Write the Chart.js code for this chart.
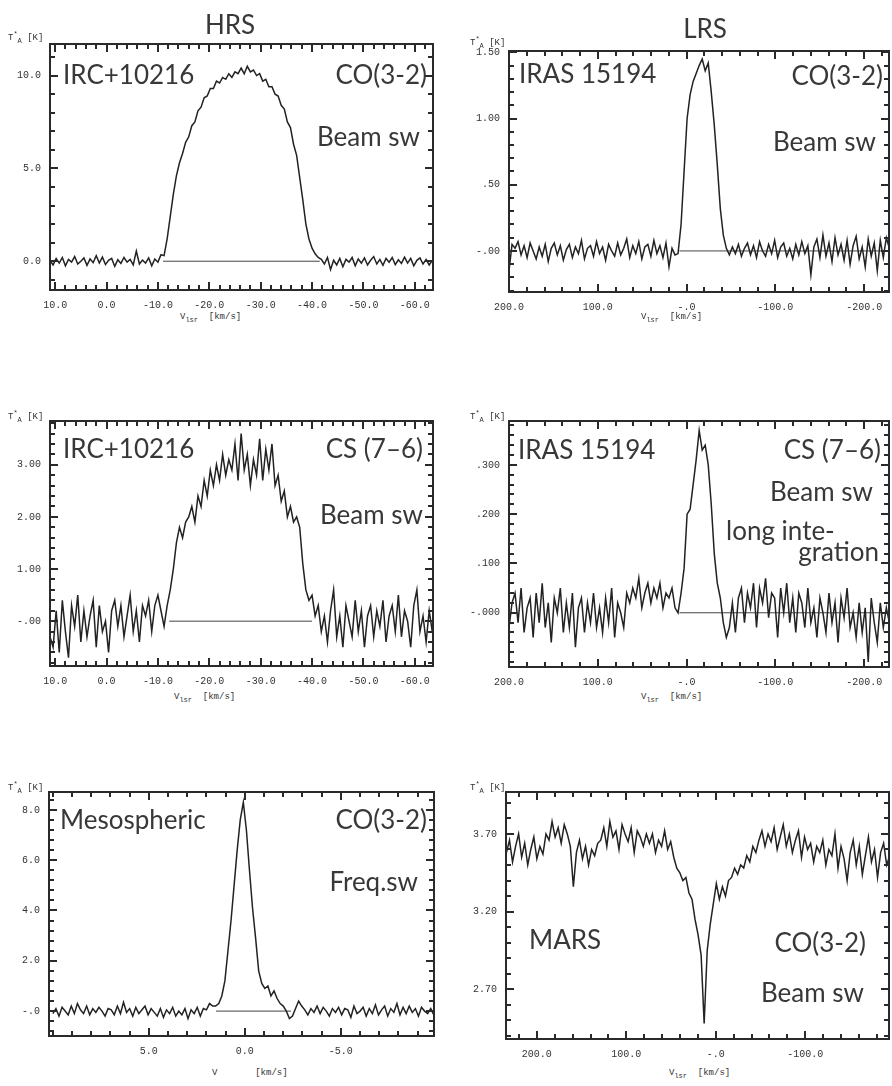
<!DOCTYPE html>
<html>
<head>
<meta charset="utf-8">
<script src="https://cdn.jsdelivr.net/npm/chart.js@4.4.1/dist/chart.umd.min.js"></script>
<style>
  body { margin:0; background:#fff; width:892px; height:1086px; overflow:hidden; position:relative; color:#363636; }
  canvas { position:absolute; }
  .t { position:absolute; font-family:Lato,"DejaVu Sans",sans-serif; font-size:26px; line-height:1; white-space:nowrap; color:#383838; }
  .ya, .xa { position:absolute; font-family:"Liberation Mono",monospace; font-size:9px; line-height:1; white-space:nowrap; color:#333; }
  .ya sub, .xa sub { font-size:7px; }
  .ya sup { font-size:7px; }
</style>
</head>
<body>
<canvas id="p1"></canvas><canvas id="p2"></canvas>
<canvas id="p3"></canvas><canvas id="p4"></canvas>
<canvas id="p5"></canvas><canvas id="p6"></canvas>

<!-- panel titles and notes -->
<div class="t" style="left:230px;top:11px;transform:translateX(-50%)">HRS</div>
<div class="t" style="left:705px;top:15px;transform:translateX(-50%)">LRS</div>

<div class="t" style="left:63px;top:61px">IRC+10216</div>
<div class="t" style="right:465px;top:61px">CO(3-2)</div>
<div class="t" style="right:472px;top:123px">Beam sw</div>

<div class="t" style="left:519px;top:60px">IRAS 15194</div>
<div class="t" style="right:9px;top:62px">CO(3-2)</div>
<div class="t" style="right:16px;top:128px">Beam sw</div>

<div class="t" style="left:63px;top:435px">IRC+10216</div>
<div class="t" style="right:469px;top:435px">CS (7–6)</div>
<div class="t" style="right:469px;top:501px">Beam sw</div>

<div class="t" style="left:518px;top:436px">IRAS 15194</div>
<div class="t" style="right:11px;top:436px">CS (7–6)</div>
<div class="t" style="right:19px;top:478px">Beam sw</div>
<div class="t" style="left:726px;top:517px">long inte-</div>
<div class="t" style="right:13px;top:538px">gration</div>

<div class="t" style="left:60px;top:806px">Mesospheric</div>
<div class="t" style="right:465px;top:806px">CO(3-2)</div>
<div class="t" style="right:474px;top:868px">Freq.sw</div>

<div class="t" style="left:529px;top:926px">MARS</div>
<div class="t" style="right:26px;top:929px">CO(3-2)</div>
<div class="t" style="right:28px;top:979px">Beam sw</div>

<!-- axis titles -->
<div class="ya" style="left:8px;top:31px">T<sup>*</sup><sub>A</sub> [K]</div>
<div class="ya" style="left:470px;top:36px">T<sup>*</sup><sub>A</sub> [K]</div>
<div class="ya" style="left:8px;top:410px">T<sup>*</sup><sub>A</sub> [K]</div>
<div class="ya" style="left:470px;top:410px">T<sup>*</sup><sub>A</sub> [K]</div>
<div class="ya" style="left:8px;top:781px">T<sup>*</sup><sub>A</sub> [K]</div>
<div class="ya" style="left:470px;top:781px">T<sup>*</sup><sub>A</sub> [K]</div>

<div class="xa" style="left:180px;top:313px">V<sub>lsr</sub>&nbsp;&nbsp;[km/s]</div>
<div class="xa" style="left:641px;top:313px">V<sub>lsr</sub>&nbsp;&nbsp;[km/s]</div>
<div class="xa" style="left:174px;top:693px">V<sub>lsr</sub>&nbsp;&nbsp;[km/s]</div>
<div class="xa" style="left:641px;top:693px">V<sub>lsr</sub>&nbsp;&nbsp;[km/s]</div>
<div class="xa" style="left:212px;top:1069px">V&nbsp;&nbsp;&nbsp;&nbsp;&nbsp;&nbsp;&nbsp;[km/s]</div>
<div class="xa" style="left:669px;top:1069px">V<sub>lsr</sub>&nbsp;&nbsp;[km/s]</div>

<script>
// --- HRS, IRC+10216 CO(3-2) ---
const v1Start = 11, v1Step = -0.6;
const y1 = [
  0.05,-0.2,0.15,-0.1,0.2,-0.25,0.1,-0.05,0.25,-0.15,0.0,0.18,-0.22,0.12,-0.08,0.3,-0.1,0.22,-0.18,0.05,
  0.15,-0.28,0.08,-0.12,0.2,-0.05,0.1,-0.2,0.55,-0.15,0.06,-0.1,0.18,-0.25,0.12,-0.05,0.35,
  0.3,1.2,2.4,3.6,4.6,5.3,5.8,6.4,6.7,7.3,7.5,8.1,8.3,8.8,8.9,9.3,9.3,9.7,9.6,9.9,9.8,10.1,9.9,10.2,
  10.1,10.4,10.1,10.5,10.2,10.3,10.0,10.1,9.7,9.8,9.4,9.4,9.0,8.9,8.4,8.2,7.5,7.2,6.3,5.7,4.5,3.3,2.0,1.2,0.7,0.4,0.2,
  0.1,-0.15,0.2,-0.45,0.05,-0.2,0.15,-0.3,0.1,-0.05,0.2,-0.25,0.12,-0.1,0.18,-0.2,0.05,0.25,-0.15,0.1,
  -0.22,0.15,-0.05,0.2,-0.18,0.08,-0.12,0.22,-0.1,0.15,-0.25,0.05,0.18,-0.15,0.1,-0.2,0.05
];
const base1 = [-11, -41.5];
const xTicks1 = [10, 0, -10, -20, -30, -40, -50, -60];
const xLabels1 = ['10.0', '0.0', '-10.0', '-20.0', '-30.0', '-40.0', '-50.0', '-60.0'];
const yTicks1 = [0, 5, 10];
const yLabels1 = ['0.0', '5.0', '10.0'];

// --- LRS, IRAS 15194 CO(3-2) ---
const v2Start = 200, v2Step = -3.4;
const y2 = [
  -0.15,0.05,0.02,0.07,-0.03,0.04,-0.05,0.06,0.0,-0.06,0.03,-0.04,0.05,-0.08,0.02,0.06,-0.03,0.04,-0.07,0.01,
  0.05,-0.05,0.03,-0.02,0.08,-0.06,0.02,0.04,-0.04,0.07,-0.02,0.03,-0.07,0.05,0.0,-0.04,0.06,-0.03,0.02,0.09,
  -0.05,0.04,-0.02,0.07,-0.06,0.03,0.05,-0.04,0.08,-0.02,0.04,-0.05,0.06,-0.12,0.02,-0.03,
  -0.02,0.2,0.6,1.0,1.18,1.28,1.34,1.40,1.45,1.36,1.42,1.20,0.95,0.65,0.32,0.12,0.02,-0.03,
  0.03,-0.02,0.05,-0.04,0.02,0.06,-0.03,0.04,-0.05,0.07,0.0,-0.04,0.05,-0.02,0.08,-0.05,0.03,0.06,-0.04,0.02,
  -0.06,0.05,-0.03,0.07,-0.02,0.04,-0.18,0.03,0.09,-0.05,0.12,-0.04,0.06,-0.08,0.1,-0.03,0.05,-0.07,0.08,-0.1,
  0.04,0.11,-0.06,0.03,-0.12,0.09,-0.04,0.06,-0.15,0.08,-0.05,0.1,0.02
];
const base2 = [8, -228];
const xTicksL = [200, 100, 0, -100, -200];
const xLabelsL = ['200.0', '100.0', '-.0', '-100.0', '-200.0'];
const yTicks2 = [0, 0.5, 1.0, 1.5];
const yLabels2 = ['-.00', '.50', '1.00', '1.50'];

// --- HRS, IRC+10216 CS(7-6) ---
const v3Start = 11, v3Step = -0.6;
const y3 = [
  -0.3,-0.5,0.2,-0.6,0.4,-0.2,-0.7,0.3,-0.1,0.5,-0.4,0.2,-0.3,0.1,0.4,-0.5,0.3,-0.2,0.0,-0.6,
  0.2,0.4,-0.1,0.3,-0.3,0.1,0.5,-0.2,0.2,-0.4,0.3,0.1,0.4,-0.2,0.3,0.5,0.2,-0.1,0.3,
  0.6,1.0,1.5,1.8,1.6,1.9,2.0,2.2,1.9,2.4,2.2,2.7,2.4,2.9,2.6,3.0,2.7,3.2,2.8,3.1,
  2.9,3.4,2.7,3.6,2.9,3.2,2.6,3.1,2.8,3.5,2.7,3.3,2.9,3.4,2.6,2.8,2.3,2.5,2.0,2.2,
  1.9,2.0,1.8,1.1,0.6,0.4,0.5,0.1,
  0.3,-0.2,0.1,-0.4,0.2,0.6,-0.3,0.1,-0.5,0.3,0.0,-0.3,0.4,-0.2,0.2,-0.5,0.1,0.3,-0.3,0.2,
  -0.1,0.4,-0.4,0.1,0.3,-0.2,0.5,-0.3,0.2,0.0,-0.5,0.3,0.6,-0.2,0.1,-0.4,0.2,-0.2
];
const base3 = [-12.2, -40];
const yTicks3 = [0, 1, 2, 3];
const yLabels3 = ['-.00', '1.00', '2.00', '3.00'];

// --- LRS, IRAS 15194 CS(7-6) ---
const v4Start = 200, v4Step = -3.4;
const y4 = [
  -0.03,0.02,0.04,-0.02,0.05,-0.04,0.01,0.03,-0.05,0.04,-0.02,0.06,-0.03,0.02,-0.06,0.03,0.0,0.05,-0.04,0.02,
  -0.03,0.04,-0.07,0.01,0.03,-0.04,0.02,-0.02,0.04,-0.03,0.01,-0.04,0.03,-0.02,0.05,-0.05,0.02,0.0,-0.03,0.04,
  0.02,0.05,0.03,0.07,0.01,0.04,0.06,0.02,0.05,0.03,0.06,0.01,0.04,0.03,0.05,0.01,
  0.0,0.04,0.09,0.2,0.21,0.26,0.31,0.37,0.33,0.34,0.30,0.22,0.12,0.06,0.03,-0.02,-0.05,-0.03,
  0.02,-0.04,0.03,0.05,-0.02,0.04,0.01,0.06,-0.03,0.05,0.02,0.07,-0.01,0.04,0.03,-0.05,0.05,0.0,0.06,-0.02,
  0.03,-0.04,0.04,0.02,-0.03,0.05,-0.02,0.01,-0.05,0.03,0.0,-0.04,0.04,-0.02,0.02,-0.06,0.03,-0.01,0.05,-0.03,
  0.0,-0.05,0.02,-0.04,0.01,-0.1,0.03,-0.02,-0.06,0.02,-0.03,0.01,-0.02
];
const base4 = [8, -228];
const yTicks4 = [0, 0.1, 0.2, 0.3];
const yLabels4 = ['-.000', '.100', '.200', '.300'];

// --- Mesospheric CO(3-2), freq. switched ---
const v5Start = 10, v5Step = -0.16;
const y5 = [
  -0.1,0.1,-0.2,0.15,0.0,-0.15,0.2,-0.1,0.3,0.05,-0.1,0.2,-0.15,0.1,-0.05,0.15,0.0,-0.2,0.1,0.05,
  -0.15,0.2,-0.1,0.35,-0.05,0.1,-0.2,0.15,-0.1,0.05,0.2,-0.15,0.1,-0.05,-0.2,0.1,-0.25,0.05,-0.1,0.15,
  -0.2,0.0,-0.15,0.1,-0.3,0.05,-0.1,0.15,-0.2,0.1,0.05,0.3,0.2,
  0.2,0.3,0.6,1.2,2.4,3.6,5.0,6.4,7.6,8.3,7.2,5.6,4.1,2.9,1.6,1.1,0.9,1.0,0.6,0.8,0.5,0.3,0.2,0.0,-0.3,-0.2,0.1,
  0.4,0.2,0.05,-0.15,0.1,-0.05,0.2,-0.1,0.15,0.0,-0.2,0.1,-0.05,0.15,-0.15,0.1,0.05,-0.25,0.2,-0.1,
  0.0,0.15,-0.2,0.1,-0.1,0.25,-0.15,0.05,0.2,-0.2,0.1,-0.05,0.3,-0.15,0.15,-0.1,0.2,-0.05,0.1,-0.2,
  0.15,0.0,-0.1,0.1,-0.15
];
const base5 = [1.5, -2.4];
const xTicks5 = [5, 0, -5];
const xLabels5 = ['5.0', '0.0', '-5.0'];
const yTicks5 = [0, 2, 4, 6, 8];
const yLabels5 = ['-.0', '2.0', '4.0', '6.0', '8.0'];

// --- MARS CO(3-2) absorption ---
const v6Start = 234, v6Step = -3.4;
const y6 = [
  3.58,3.66,3.52,3.62,3.70,3.55,3.64,3.50,3.60,3.68,3.54,3.62,3.57,
  3.70,3.66,3.78,3.68,3.74,3.64,3.76,3.70,3.62,3.36,
  3.58,3.66,3.54,3.62,3.50,3.60,3.56,3.64,
  3.66,3.74,3.62,3.78,3.68,3.72,3.60,3.76,3.70,3.65,3.74,3.58,3.72,3.68,3.62,3.70,
  3.64,3.70,3.58,3.66,3.62,3.72,3.60,3.65,3.55,
  3.48,3.45,3.40,3.42,3.32,3.28,3.15,3.05,2.92,2.48,2.95,3.12,3.25,3.38,3.28,3.36,3.30,3.40,3.42,3.48,
  3.44,3.50,3.48,3.56,3.52,3.62,3.58,
  3.66,3.72,3.62,3.70,3.65,3.74,3.60,3.68,3.76,3.62,3.70,3.58,3.66,3.72,3.55,3.68,3.60,3.64,3.52,3.62,
  3.58,3.66,3.50,3.60,3.56,3.70,3.48,3.62,3.54,3.40,3.58,3.66,3.50,3.62,3.44,3.56,3.68,3.52,3.60,3.42,
  3.58,3.64,3.50,3.56
];
const base6 = [];
const xTicks6 = [200, 100, 0, -100];
const xLabels6 = ['200.0', '100.0', '-.0', '-100.0'];
const yTicks6 = [2.7, 3.2, 3.7];
const yLabels6 = ['2.70', '3.20', '3.70'];

const ink = '#222';
const tickFont = { family: 'Liberation Mono', size: 10 };

// frame + inward tick marks on all four sides (one plugin per panel)
function frameTicks(xMinor, yMinor) {
  return {
    id: 'frameTicks',
    afterDraw(chart) {
      const ctx = chart.ctx, a = chart.chartArea;
      const x = chart.scales.x, y = chart.scales.y;
      const L = Math.round(a.left), T = Math.round(a.top);
      const R = Math.round(a.right), B = Math.round(a.bottom);
      ctx.save();
      ctx.fillStyle = '#2a2a2a';
      // frame as filled bars
      ctx.fillRect(L - 1, T - 1, R - L + 2, 2);
      ctx.fillRect(L - 1, B - 1, R - L + 2, 2);
      ctx.fillRect(L - 1, T - 1, 2, B - T + 2);
      ctx.fillRect(R - 1, T - 1, 2, B - T + 2);
      const xMaj = x.ticks.map(t => t.value), yMaj = y.ticks.map(t => t.value);
      const k0 = Math.ceil(x.min / xMinor - 1e-6), k1 = Math.floor(x.max / xMinor + 1e-6);
      for (let k = k0; k <= k1; k++) {
        const v = k * xMinor;
        const px = Math.round(x.getPixelForValue(v));
        const len = xMaj.some(t => Math.abs(t - v) < xMinor / 10) ? 8 : 5;
        ctx.fillRect(px - 1, B - len, 2, len);
        ctx.fillRect(px - 1, T, 2, len);
      }
      const j0 = Math.ceil(y.min / yMinor - 1e-6), j1 = Math.floor(y.max / yMinor + 1e-6);
      for (let k = j0; k <= j1; k++) {
        const v = k * yMinor;
        const py = Math.round(y.getPixelForValue(v));
        const len = yMaj.some(t => Math.abs(t - v) < yMinor / 10) ? 8 : 5;
        ctx.fillRect(L, py - 1, len, 2);
        ctx.fillRect(R - len, py - 1, len, 2);
      }
      ctx.restore();
    }
  };
}

function makePanel(id, area, p) {
  const cv = document.getElementById(id);
  const W = area[2] - area[0] + 54, H = area[3] - area[1] + 36;
  cv.width = W; cv.height = H;
  cv.style.left = (area[0] - 50) + 'px';
  cv.style.top = (area[1] - 14) + 'px';

  const datasets = [{
    data: p.y.map((y, i) => ({ x: p.start + i * p.step, y })),
    borderColor: ink, borderWidth: 1.5, pointRadius: 0, tension: 0
  }];
  if (p.base.length) {
    datasets.push({
      data: p.base.map(x => ({ x, y: 0 })),
      borderColor: '#444', borderWidth: 1, pointRadius: 0
    });
  }

  new Chart(cv, {
    type: 'line',
    data: { datasets },
    options: {
      responsive: false,
      animation: false,
      devicePixelRatio: 1,
      layout: { padding: { top: 14, right: 4, left: 0, bottom: 0 } },
      plugins: { legend: { display: false }, tooltip: { enabled: false } },
      scales: {
        x: {
          type: 'linear', reverse: true, min: p.xMin, max: p.xMax,
          afterFit: s => { s.height = 22; },
          afterBuildTicks: s => { s.ticks = p.xTicks.map(v => ({ value: v })); },
          ticks: {
            callback: v => p.xLabels[p.xTicks.indexOf(v)],
            font: tickFont, color: '#333', padding: 9, maxRotation: 0, autoSkip: false
          },
          grid: { display: false, drawTicks: false },
          border: { display: false }
        },
        y: {
          type: 'linear', min: p.yMin, max: p.yMax,
          afterFit: s => { s.width = 50; },
          afterBuildTicks: s => { s.ticks = p.yTicks.map(v => ({ value: v })); },
          ticks: {
            callback: v => p.yLabels[p.yTicks.indexOf(v)],
            font: tickFont, color: '#333', padding: 9, autoSkip: false
          },
          grid: { display: false, drawTicks: false },
          border: { display: false }
        }
      }
    },
    plugins: [frameTicks(p.xMinor, p.yMinor)]
  });
}

makePanel('p1', [50, 43, 435, 290], {
  y: y1, start: v1Start, step: v1Step, base: base1,
  xMin: -63.5, xMax: 11, yMin: -1.55, yMax: 11.7,
  xTicks: xTicks1, xLabels: xLabels1, yTicks: yTicks1, yLabels: yLabels1, xMinor: 2, yMinor: 1
});
makePanel('p2', [509, 50, 889, 292], {
  y: y2, start: v2Start, step: v2Step, base: base2,
  xMin: -228, xMax: 200, yMin: -0.31, yMax: 1.51,
  xTicks: xTicksL, xLabels: xLabelsL, yTicks: yTicks2, yLabels: yLabels2, xMinor: 20, yMinor: 0.1
});
makePanel('p3', [50, 420, 435, 666], {
  y: y3, start: v3Start, step: v3Step, base: base3,
  xMin: -63.5, xMax: 11, yMin: -0.86, yMax: 3.84,
  xTicks: xTicks1, xLabels: xLabels1, yTicks: yTicks3, yLabels: yLabels3, xMinor: 2, yMinor: 0.2
});
makePanel('p4', [509, 420, 889, 667], {
  y: y4, start: v4Start, step: v4Step, base: base4,
  xMin: -228, xMax: 200, yMin: -0.11, yMax: 0.389,
  xTicks: xTicksL, xLabels: xLabelsL, yTicks: yTicks4, yLabels: yLabels4, xMinor: 20, yMinor: 0.02
});
makePanel('p5', [49, 791, 434, 1036], {
  y: y5, start: v5Start, step: v5Step, base: base5,
  xMin: -9.85, xMax: 10.2, yMin: -0.99, yMax: 8.71,
  xTicks: xTicks5, xLabels: xLabels5, yTicks: yTicks5, yLabels: yLabels5, xMinor: 1, yMinor: 0.4
});
makePanel('p6', [506, 791, 889, 1039], {
  y: y6, start: v6Start, step: v6Step, base: base6,
  xMin: -193.6, xMax: 234.5, yMin: 2.38, yMax: 3.97,
  xTicks: xTicks6, xLabels: xLabels6, yTicks: yTicks6, yLabels: yLabels6, xMinor: 20, yMinor: 0.1
});
</script>
</body>
</html>
